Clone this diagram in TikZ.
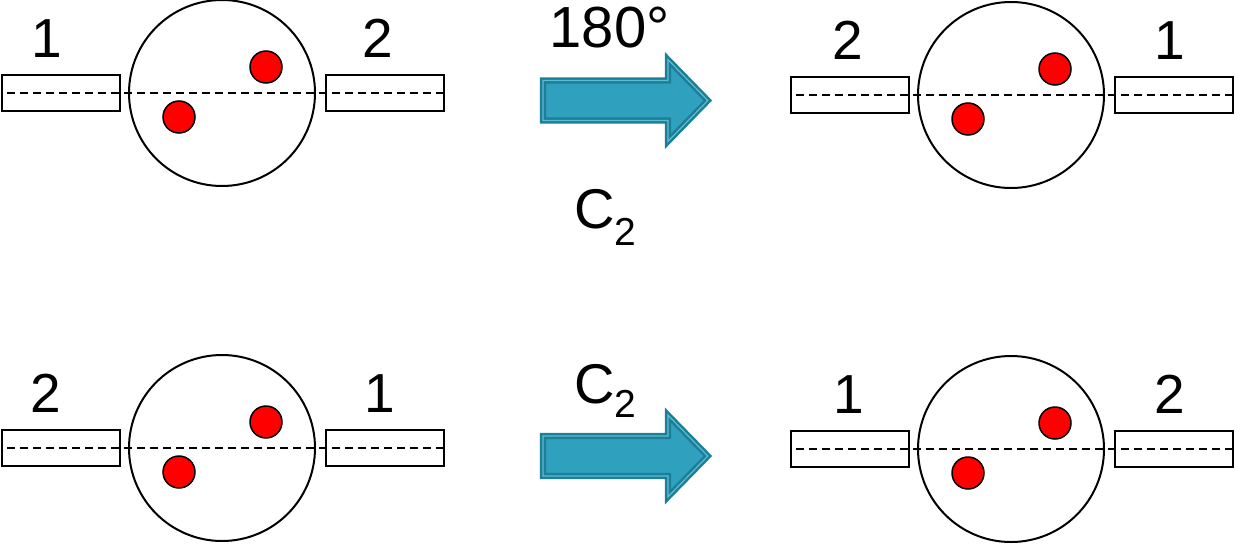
\documentclass[tikz,border=0pt]{standalone}
\usepackage{fontspec}
\setmainfont{Liberation Sans}
\definecolor{arrowfill}{RGB}{47,161,191}
\definecolor{arrowdark}{RGB}{29,126,151}
\definecolor{arrowlight}{RGB}{92,188,212}
\tikzset{
  disc/.style={circle, draw, line width=2pt, minimum size=186pt, inner sep=0pt},
  rod/.style={rectangle, draw, line width=2pt, minimum width=118pt, minimum height=36pt, inner sep=0pt},
  atom/.style={circle, draw, fill=red, line width=1.5pt, minimum size=32pt, inner sep=0pt},
  axisline/.style={line width=1.8pt, dash pattern=on 8pt off 5pt},
  lab/.style={font=\fontsize{55}{55}\selectfont, inner sep=0pt, anchor=base},
  biglab/.style={font=\fontsize{58}{58}\selectfont, inner sep=0pt, anchor=base},
  clab/.style={font=\fontsize{56}{56}\selectfont, inner sep=0pt, anchor=base west},
  bigarrowstyle/.style={fill=arrowfill, draw=arrowdark, double=arrowlight, double distance=1.2pt, line width=2.5pt, line join=miter}
}
\newcommand{\rotor}[7]{%
  \node[disc] (#1c) at (#2,#3) {};
  \node[rod] (#1l) at (#2-161,#3) {};
  \node[rod] (#1r) at (#2+162.5,#3) {};
  \node[atom] (#1a) at (#2+44,#3-26) {};
  \node[atom] (#1b) at (#2-43,#3+24) {};
  \draw[axisline] ([xshift=6pt]#1l.west) -- (#1r.east);
  \node[lab] (#1p) at (#5,#3-36) {#4};
  \node[lab] (#1q) at (#7,#3-36) {#6};
}
\newcommand{\bigarrow}[1]{%
  \draw[bigarrowstyle] (543,#1-20) -- (668,#1-20) -- (668,#1-40.8) -- (707.8,#1)
    -- (668,#1+40.8) -- (668,#1+20) -- (543,#1+20) -- cycle;
}
\begin{document}
\begin{tikzpicture}[x=1pt,y=-1pt]
\useasboundingbox (0,0) rectangle (1238,546);
\rotor{tl}{222}{93}{1}{47}{2}{378}
\rotor{tr}{1011}{95}{2}{848}{1}{1170}
\rotor{bl}{222}{448}{2}{46}{1}{380}
\rotor{br}{1011}{449}{1}{849}{2}{1170}
\bigarrow{100.5}
\bigarrow{456}
\node[biglab] (rot) at (609.5,47) {180°};
\node[clab] (ctop) at (574,228) {C\raisebox{-17pt}{\fontsize{39}{39}\selectfont 2}};
\node[clab] (cbot) at (574,403) {C\raisebox{-14pt}{\fontsize{39}{39}\selectfont 2}};
\end{tikzpicture}
\end{document}
